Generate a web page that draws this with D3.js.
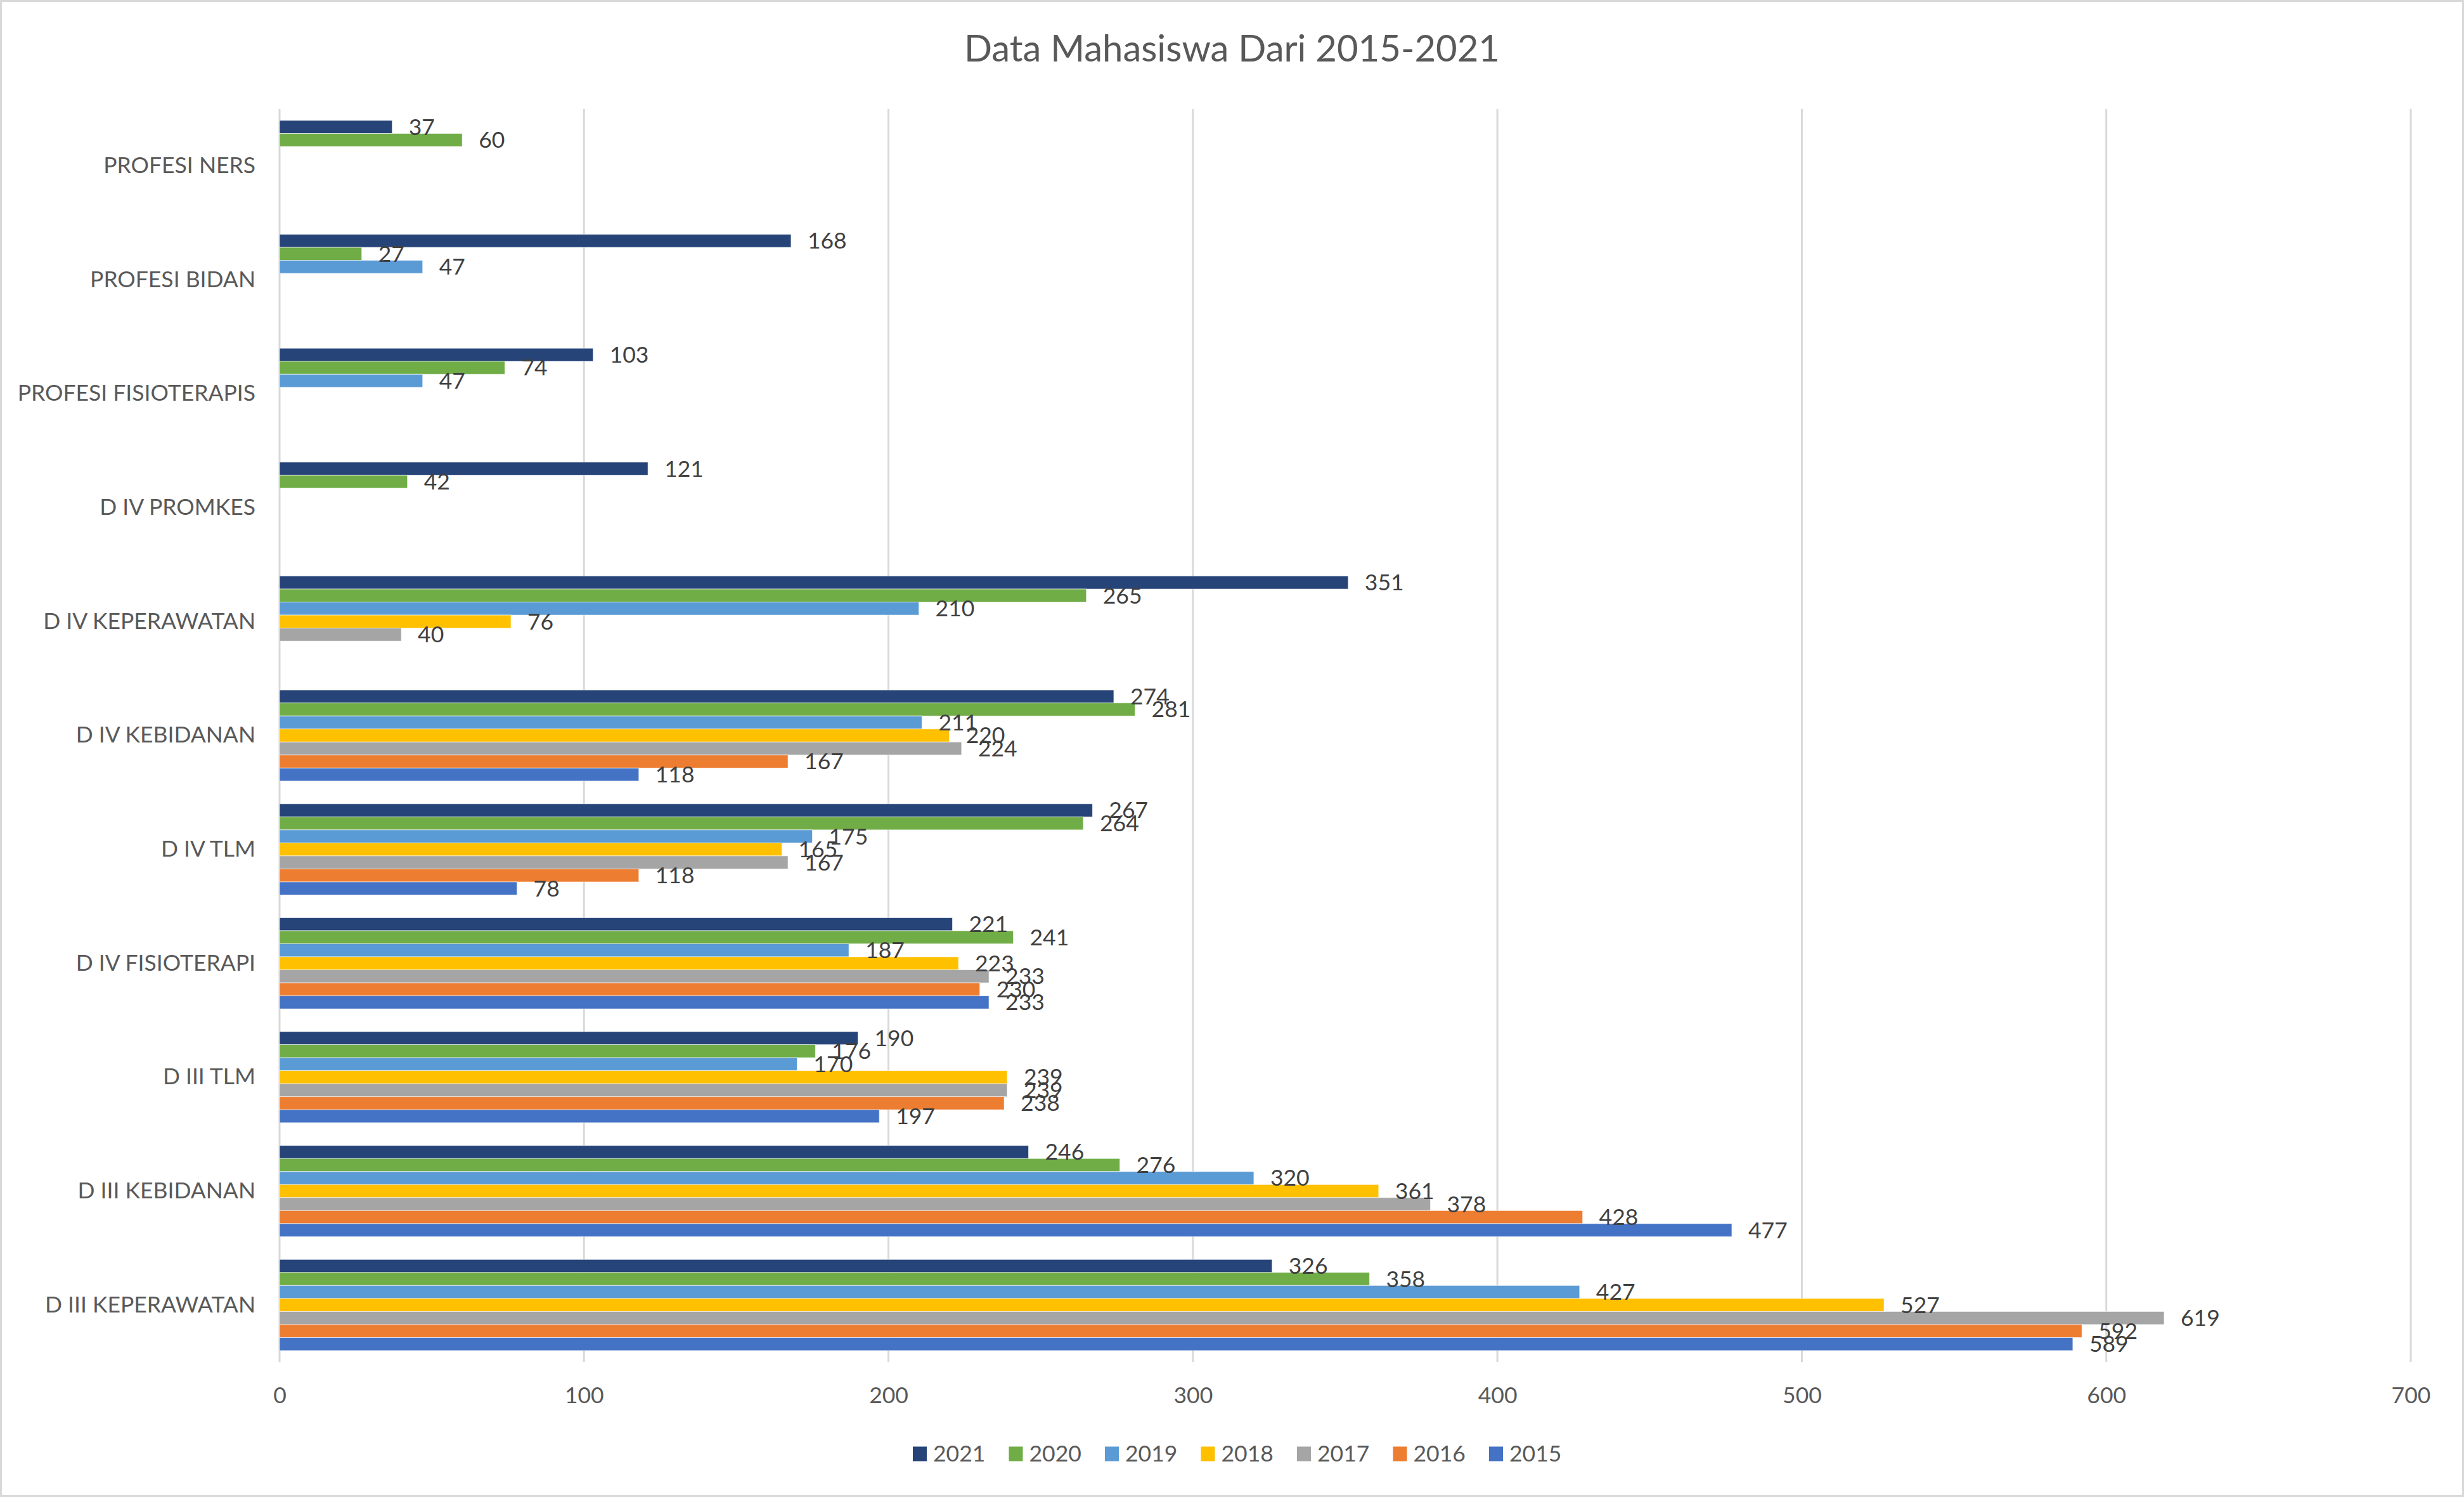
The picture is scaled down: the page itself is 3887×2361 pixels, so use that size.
<!DOCTYPE html>
<html>
<head>
<meta charset="utf-8">
<script src="https://cdn.jsdelivr.net/npm/d3@7"></script>
<style>
  html, body { margin: 0; padding: 0; background: #fff; }
  svg { display: block; }
</style>
</head>
<body>
<script>
const categories = ["PROFESI NERS", "PROFESI BIDAN", "PROFESI FISIOTERAPIS", "D IV PROMKES",
  "D IV KEPERAWATAN", "D IV KEBIDANAN", "D IV TLM", "D IV FISIOTERAPI", "D III TLM",
  "D III KEBIDANAN", "D III KEPERAWATAN"];
const years = ["2021", "2020", "2019", "2018", "2017", "2016", "2015"];
const v2021 = [37, 168, 103, 121, 351, 274, 267, 221, 190, 246, 326];
const v2020 = [60, 27, 74, 42, 265, 281, 264, 241, 176, 276, 358];
const v2019 = [null, 47, 47, null, 210, 211, 175, 187, 170, 320, 427];
const v2018 = [null, null, null, null, 76, 220, 165, 223, 239, 361, 527];
const v2017 = [null, null, null, null, 40, 224, 167, 233, 239, 378, 619];
const v2016 = [null, null, null, null, null, 167, 118, 230, 238, 428, 592];
const v2015 = [null, null, null, null, null, 118, 78, 233, 197, 477, 589];
const xTicks = [0, 100, 200, 300, 400, 500, 600, 700];
const colors = ["#264478", "#70AD47", "#5B9BD5", "#FFC000", "#A5A5A5", "#ED7D31", "#4472C4"];
const title = "Data Mahasiswa Dari 2015-2021";

const seriesValues = [v2021, v2020, v2019, v2018, v2017, v2016, v2015];

const W = 3887, H = 2361;
const FONT = "Lato, 'Open Sans', sans-serif";
const FS = 35.5;

const svg = d3.select("body").append("svg").attr("width", W).attr("height", H);
svg.append("rect").attr("x", 1.5).attr("y", 1.5).attr("width", W - 3).attr("height", H - 3)
  .attr("fill", "#fff").attr("stroke", "#D9D9D9").attr("stroke-width", 3);

const plot = { left: 441, right: 3803, top: 172, bottom: 2148 };

const x = d3.scaleLinear().domain([0, 700]).range([plot.left, plot.right]);
const y = d3.scaleBand().domain(categories).range([plot.top, plot.bottom])
  .paddingInner(0.2).paddingOuter(0.1);
const ySub = d3.scaleBand().domain(years).range([0, y.bandwidth()]);

// gridlines
svg.append("g").selectAll("line").data(xTicks).join("line")
  .attr("x1", d => x(d)).attr("x2", d => x(d))
  .attr("y1", plot.top).attr("y2", plot.bottom)
  .attr("stroke", "#D9D9D9").attr("stroke-width", 3);

// x axis labels
const xAxis = d3.axisBottom(x).tickValues(xTicks).tickSize(0).tickPadding(0);
const gx = svg.append("g").attr("transform", `translate(0,${2201})`).call(xAxis);
gx.select(".domain").remove();
gx.selectAll("text").attr("font-family", FONT).attr("font-size", FS).attr("fill", "#595959")
  .attr("dy", "0.35em");

// category labels
const yAxis = d3.axisLeft(y).tickSize(0).tickPadding(0);
const gy = svg.append("g").attr("transform", `translate(${403},0)`).call(yAxis);
gy.select(".domain").remove();
gy.selectAll("text").attr("font-family", FONT).attr("font-size", FS).attr("fill", "#595959");

// bars
const data = [];
categories.forEach((c, i) => {
  years.forEach((yr, j) => {
    const v = seriesValues[j][i];
    if (v !== null && v !== undefined) data.push({ cat: c, year: yr, value: v, color: colors[j] });
  });
});

svg.append("g").selectAll("rect").data(data).join("rect")
  .attr("x", x(0))
  .attr("y", d => y(d.cat) + ySub(d.year))
  .attr("width", d => x(d.value) - x(0))
  .attr("height", ySub.bandwidth())
  .attr("fill", d => d.color)
  .attr("stroke", "#fff").attr("stroke-width", 1).attr("stroke-opacity", 0.6);

// data labels
svg.append("g").selectAll("text").data(data).join("text")
  .attr("x", d => x(d.value) + 26)
  .attr("y", d => y(d.cat) + ySub(d.year) + ySub.bandwidth() / 2)
  .attr("dy", "0.35em")
  .attr("font-family", FONT).attr("font-size", FS).attr("fill", "#404040")
  .text(d => d.value);

// title
svg.append("text").attr("x", W / 2).attr("y", 77).attr("dy", "0.35em")
  .attr("text-anchor", "middle").attr("font-family", FONT).attr("font-size", 58)
  .attr("fill", "#595959").text(title);

// legend
const legend = svg.append("g").attr("transform", "translate(1440,2293)");
const li = legend.selectAll("g").data(years).join("g")
  .attr("transform", (d, i) => `translate(${i * 151.5},0)`);
li.append("rect").attr("x", 0).attr("y", -11.5).attr("width", 22).attr("height", 23)
  .attr("fill", (d, i) => colors[i]);
li.append("text").attr("x", 32).attr("y", 0).attr("dy", "0.35em")
  .attr("font-family", FONT).attr("font-size", FS).attr("fill", "#595959").text(d => d);
</script>
</body>
</html>
